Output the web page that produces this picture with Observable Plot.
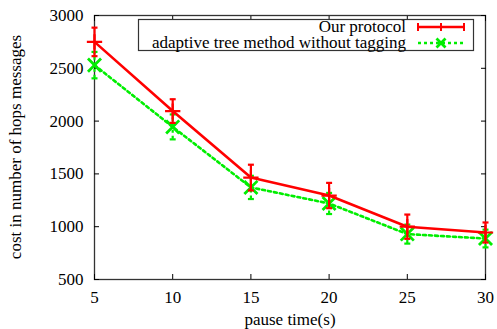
<!DOCTYPE html>
<html><head><meta charset="utf-8">
<script src="https://cdn.jsdelivr.net/npm/d3@7"></script>
<script src="https://cdn.jsdelivr.net/npm/@observablehq/plot@0.6"></script>
<style>
body{margin:0;background:#fff;}
#chart{position:relative;width:497px;height:329px;}
svg, svg text{font-family:"Liberation Serif","Tinos","DejaVu Serif","Noto Serif",serif !important;}
</style></head>
<body><div id="chart"></div>
<script>
const pauseTimes = [5, 10, 15, 20, 25, 30];
const ourProtocol = [2750, 2095, 1465, 1295, 1000, 945];
const ourErr = [135, 112, 122, 120, 115, 95];
const adaptiveTree = [2530, 1945, 1372, 1220, 930, 888];
const adaptiveErr = [125, 118, 110, 100, 90, 84];
const seriesNames = ["Our protocol", "adaptive tree method without tagging"];
const xTicks = [5, 10, 15, 20, 25, 30];
const yTicks = [500, 1000, 1500, 2000, 2500, 3000];
const xLabel = "pause time(s)";
const yLabel = "cost in number of hops messages";
const colors = ["#ff0000", "#00ee00"];

const rows = (vals, errs, s) => pauseTimes.map((t, i) => ({t, v: vals[i], lo: vals[i] - errs[i], hi: vals[i] + errs[i], s}));
const red = rows(ourProtocol, ourErr, seriesNames[0]);
const green = rows(adaptiveTree, adaptiveErr, seriesNames[1]);

const capSymbol = {draw(ctx, size){const r = Math.sqrt(size / Math.PI); ctx.moveTo(-r, 0); ctx.lineTo(r, 0);}};
const serif = "Liberation Serif, DejaVu Serif, serif";
const fs = 17;

const plot = Plot.plot({
  width: 497, height: 329,
  marginLeft: 94, marginRight: 12, marginTop: 15, marginBottom: 50,
  style: {fontFamily: serif, fontSize: fs + "px", color: "#000", background: "#fff"},
  x: {domain: [5, 30], ticks: xTicks},
  y: {domain: [500, 3000], ticks: yTicks},
  marks: [
    Plot.frame({stroke: "#333", strokeWidth: 1.3}),
    Plot.axisX({anchor: "bottom", ticks: xTicks, tickSize: -5, tickPadding: 16, tickFormat: "d", label: null, fontSize: fs, fontFamily: serif}),
    Plot.axisX({anchor: "top", ticks: xTicks, tickSize: -5, tickFormat: () => "", label: null}),
    Plot.axisY({anchor: "left", ticks: yTicks, tickSize: -5, tickPadding: 16, tickFormat: "d", label: null, fontSize: fs, fontFamily: serif}),
    Plot.axisY({anchor: "right", ticks: yTicks, tickSize: -5, tickFormat: () => "", label: null}),
    // green series
    Plot.ruleX(green, {x: "t", y1: "lo", y2: "hi", stroke: colors[1], strokeWidth: 2.2, strokeDasharray: "3,3"}),
    Plot.dot(green, {x: "t", y: "lo", symbol: capSymbol, r: 3, stroke: colors[1], strokeWidth: 2.2}),
    Plot.dot(green, {x: "t", y: "hi", symbol: capSymbol, r: 3, stroke: colors[1], strokeWidth: 2.2}),
    Plot.line(green, {x: "t", y: "v", stroke: colors[1], strokeWidth: 2.6, strokeDasharray: "3,3"}),
    Plot.dot(green, {x: "t", y: "v", symbol: "times", r: 6, stroke: colors[1], strokeWidth: 2.8}),
    // red series
    Plot.ruleX(red, {x: "t", y1: "lo", y2: "hi", stroke: colors[0], strokeWidth: 2.2}),
    Plot.dot(red, {x: "t", y: "lo", symbol: capSymbol, r: 3, stroke: colors[0], strokeWidth: 2.2}),
    Plot.dot(red, {x: "t", y: "hi", symbol: capSymbol, r: 3, stroke: colors[0], strokeWidth: 2.2}),
    Plot.line(red, {x: "t", y: "v", stroke: colors[0], strokeWidth: 2.6}),
    Plot.dot(red, {x: "t", y: "v", symbol: "plus", r: 5, stroke: colors[0], strokeWidth: 2.2})
  ]
});
document.getElementById("chart").appendChild(plot);

const svg = d3.select(plot);
// axis titles
svg.append("text").attr("x", 290).attr("y", 320).attr("dy", "0.32em").attr("text-anchor", "middle")
  .attr("font-size", fs).attr("fill", "#000").text(xLabel);
svg.append("text").attr("transform", "translate(16,147) rotate(-90)").attr("dy", "0.32em").attr("text-anchor", "middle")
  .attr("font-size", fs).attr("fill", "#000").text(yLabel);

// legend box inside plot area
const g = svg.append("g");
g.append("rect").attr("x", 138.5).attr("y", 19.5).attr("width", 335).attr("height", 31)
  .attr("fill", "#fff").attr("stroke", "#333").attr("stroke-width", 1.2);
seriesNames.forEach((name, i) => {
  const y = 27 + i * 16;
  g.append("text").attr("x", 406).attr("y", y).attr("dy", "0.32em").attr("text-anchor", "end")
    .attr("font-size", fs).attr("fill", "#000").text(name);
  g.append("line").attr("x1", 418).attr("x2", 464).attr("y1", y).attr("y2", y)
    .attr("stroke", colors[i]).attr("stroke-width", 2.4).attr("stroke-dasharray", i ? "3,3" : null);
  if (i === 0) {
    [418, 464, 441].forEach(x => g.append("line").attr("x1", x).attr("x2", x).attr("y1", y - 4).attr("y2", y + 4).attr("stroke", colors[0]).attr("stroke-width", 2));
  } else {
    g.append("path").attr("d", `M${441-4.5},${y-4.5}L${441+4.5},${y+4.5}M${441-4.5},${y+4.5}L${441+4.5},${y-4.5}`).attr("stroke", colors[1]).attr("stroke-width", 2.8);
  }
});
</script></body></html>
